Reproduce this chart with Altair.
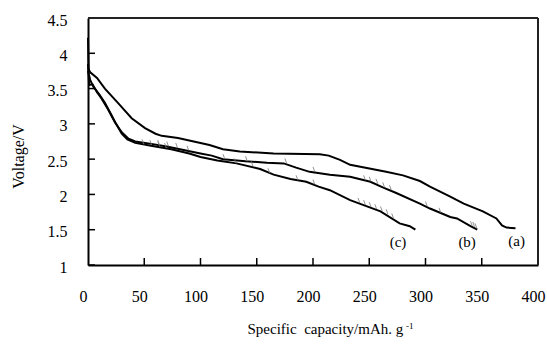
import altair as alt
import pandas as pd

# ---- data ----
a_cap = [0, 0.5, 2, 8, 15, 27, 38.8, 50.7, 60, 65.5, 80, 100, 108, 120, 135, 165, 206, 214, 224, 233, 265, 280, 295, 304, 322, 334, 351, 363, 368, 372, 380]
a_volt = [4.22, 3.78, 3.73, 3.65, 3.5, 3.29, 3.08, 2.94, 2.86, 2.83, 2.8, 2.73, 2.7, 2.64, 2.61, 2.58, 2.57, 2.55, 2.49, 2.42, 2.32, 2.27, 2.19, 2.11, 1.97, 1.87, 1.76, 1.66, 1.56, 1.53, 1.52]

b_cap = [0, 1, 4, 8, 12, 18, 24, 30, 36, 42, 55, 70, 85, 100, 110, 120, 140, 159, 174, 185, 197, 215, 233, 251, 262, 274, 295, 304, 322, 328, 340, 346]
b_volt = [3.85, 3.55, 3.56, 3.45, 3.36, 3.2, 3.02, 2.88, 2.79, 2.75, 2.72, 2.68, 2.63, 2.58, 2.55, 2.5, 2.47, 2.45, 2.44, 2.38, 2.32, 2.28, 2.25, 2.18, 2.1, 2.02, 1.87, 1.8, 1.68, 1.66, 1.55, 1.5]

c_cap = [0, 2, 5, 10, 15, 20, 25, 30, 35, 42, 56, 74, 90, 100, 115, 132, 153, 165, 180, 194, 205, 215, 233, 260, 277, 286, 291]
c_volt = [3.75, 3.62, 3.52, 3.42, 3.3, 3.15, 3.0, 2.86, 2.78, 2.73, 2.69, 2.64, 2.58, 2.53, 2.48, 2.44, 2.36, 2.28, 2.22, 2.18, 2.11, 2.06, 1.92, 1.76, 1.59, 1.55, 1.5]

# thin saw-tooth relaxation marks along curves (b) and (c)
serr_b_cap = [62, 70, 78, 88, 120, 140, 175, 200, 245, 250, 256, 262, 268, 300, 312, 340, 342, 344]
serr_b_volt = [2.70, 2.68, 2.66, 2.62, 2.50, 2.47, 2.44, 2.32, 2.20, 2.18, 2.15, 2.10, 2.06, 1.83, 1.74, 1.55, 1.54, 1.52]
serr_c_cap = [48, 55, 62, 68, 130, 145, 160, 185, 200, 240, 245, 250, 255, 260, 265, 270]
serr_c_volt = [2.71, 2.70, 2.68, 2.66, 2.44, 2.40, 2.30, 2.20, 2.14, 1.88, 1.85, 1.82, 1.79, 1.76, 1.72, 1.66]

labels = ["(a)", "(b)", "(c)"]
label_cap = [381, 337, 275.6]
label_volt = [1.34, 1.33, 1.33]

y_ticks = [1, 1.5, 2, 2.5, 3, 3.5, 4, 4.5]
x_ticks = [0, 50, 100, 150, 200, 250, 300, 350, 400]

# ---- tables ----
rows = []
for name, xs, ys in [("a", a_cap, a_volt), ("b", b_cap, b_volt), ("c", c_cap, c_volt)]:
    for i, (x, y) in enumerate(zip(xs, ys)):
        rows.append({"series": name, "order": i, "cap": x, "volt": y})
curves = pd.DataFrame(rows)

srows = []
for xs, ys in [(serr_b_cap, serr_b_volt), (serr_c_cap, serr_c_volt)]:
    for x, y in zip(xs, ys):
        srows.append({"cap": x, "cap2": x + 1.6, "volt": y + 0.07, "volt2": y})
serr = pd.DataFrame(srows)

lab_df = pd.DataFrame({"label": labels, "cap": label_cap, "volt": label_volt})
yt_df = pd.DataFrame({"volt": y_ticks})
xt_df = pd.DataFrame({"cap": x_ticks[1:-1]})

FONT = "'Liberation Serif', 'Times New Roman', Times, serif"
xscale = alt.Scale(domain=[0, 400], nice=False)
yscale = alt.Scale(domain=[1, 4.5], nice=False, zero=False)

AX = alt.Axis(values=x_ticks, ticks=False, grid=False, domainColor="black", domainWidth=2,
              labelFont=FONT, labelFontSize=16, labelColor="black", labelPadding=23,
              labelFlush=False, labelOverlap=False, labelOffset=-5,
              title="Specific\u00a0 capacity/mAh. g", titleFont=FONT, titleFontSize=15,
              titleFontWeight="normal", titleColor="black",
              titleAnchor="start", titleAlign="left", titleX=159, titleY=68,
              titleBaseline="alphabetic")
AY = alt.Axis(values=y_ticks, ticks=False, grid=False, domainColor="black", domainWidth=2,
              labelFont=FONT, labelFontSize=16, labelColor="black", labelPadding=21,
              labelFlush=False, labelOverlap=False, labelOffset=2, format="~g",
              title="Voltage/V", titleFont=FONT, titleFontSize=16, titleFontWeight="normal",
              titleColor="black", titleAngle=-90, titleX=-65, titleY=138,
              titleAlign="center", titleBaseline="alphabetic")

X = lambda f: alt.X(f, type="quantitative", scale=xscale, axis=AX)
Y = lambda f: alt.Y(f, type="quantitative", scale=yscale, axis=AY)

lines = alt.Chart(curves).mark_line(color="black", strokeWidth=2, interpolate="linear").encode(
    x=X("cap"), y=Y("volt"), detail="series:N", order="order:Q",
)

saw = alt.Chart(serr).mark_rule(color="#777777", strokeWidth=0.8).encode(
    x=X("cap"), x2="cap2:Q", y=Y("volt"), y2="volt2:Q",
)

ytick_rules = alt.Chart(yt_df).mark_rule(color="black", strokeWidth=1.5).encode(
    y=Y("volt"), x=alt.value(0), x2=alt.value(7)
)
xtick_rules = alt.Chart(xt_df).mark_rule(color="black", strokeWidth=1.5).encode(
    x=X("cap"), y=alt.value(247), y2=alt.value(240)
)
frame_top = alt.Chart(xt_df).mark_rule(color="#222222", strokeWidth=1.2).encode(
    x=alt.value(0), x2=alt.value(450), y=alt.value(0)
)
frame_right = alt.Chart(xt_df).mark_rule(color="#222222", strokeWidth=1.2).encode(
    x=alt.value(450), y=alt.value(0), y2=alt.value(247)
)

text = alt.Chart(lab_df).mark_text(font=FONT, fontSize=15, color="black").encode(
    x=X("cap"), y=Y("volt"), text="label:N"
)

sup = alt.Chart(pd.DataFrame({"t": ["-1"]})).mark_text(
    font=FONT, fontSize=9, color="black", align="left", baseline="alphabetic"
).encode(x=alt.value(318), y=alt.value(311), text="t:N")

chart = alt.layer(lines, saw, ytick_rules, xtick_rules, frame_top, frame_right, text, sup).properties(
    width=450, height=247,
    autosize=alt.AutoSizeParams(type="none"),
    padding={"left": 88, "top": 18, "right": 9, "bottom": 79},
).configure_view(stroke=None).configure(background="white", font=FONT)

chart.save("out.html", embed_options={"renderer": "svg", "actions": False})
